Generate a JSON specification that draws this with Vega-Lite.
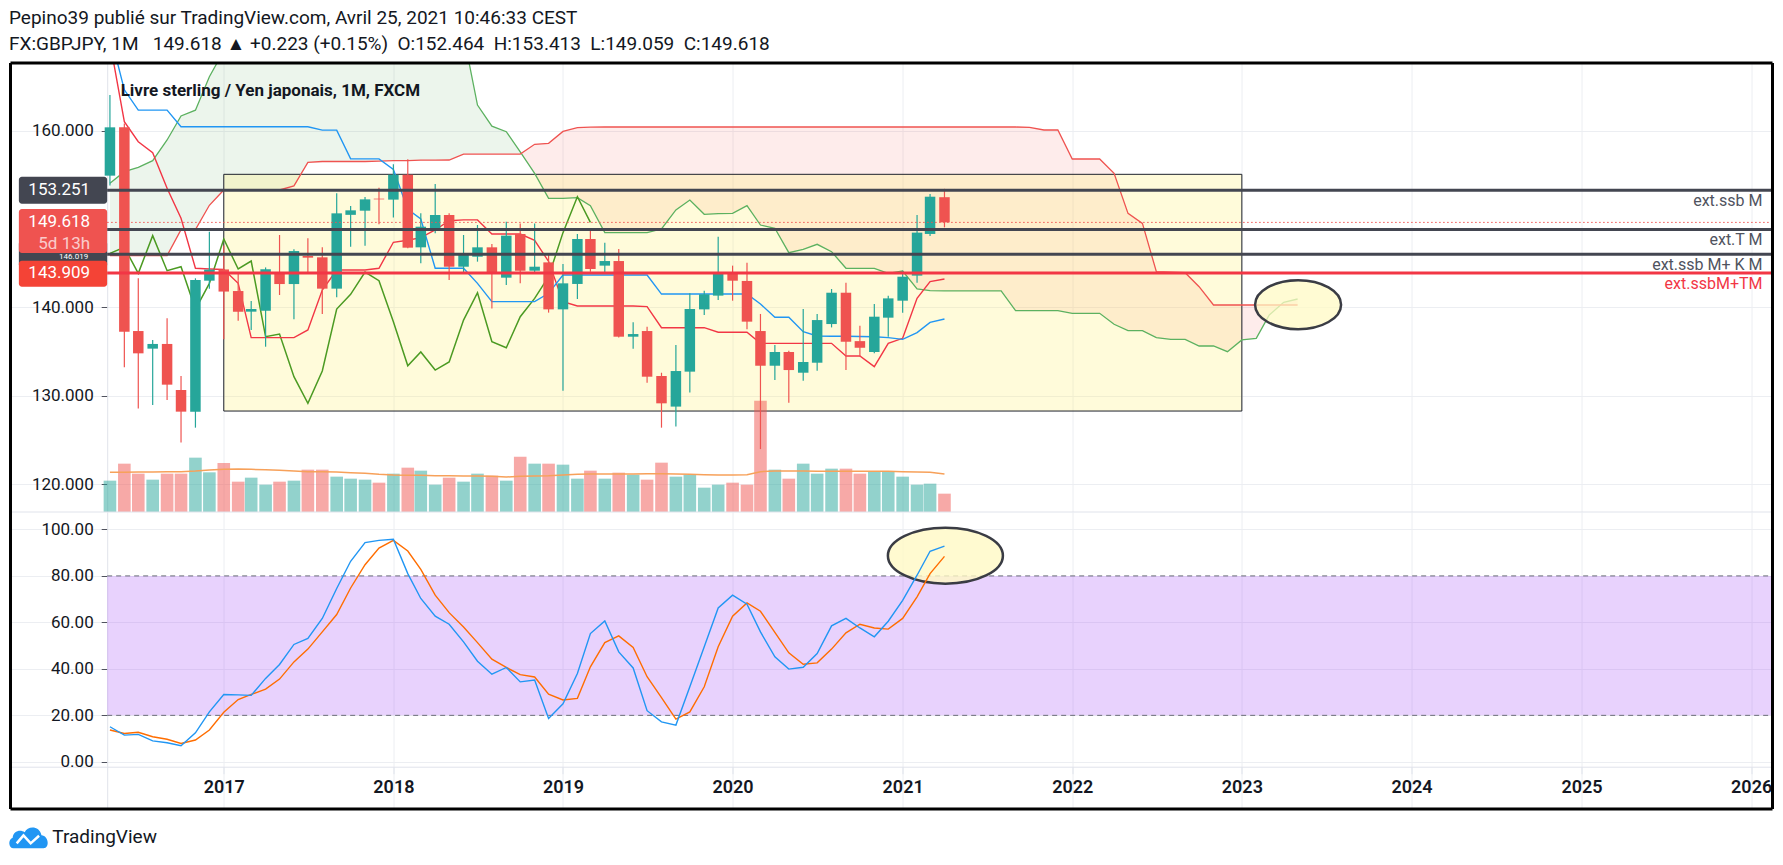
{
  "$schema": "https://vega.github.io/schema/vega-lite/v6.json",
  "background": "#ffffff",
  "padding": {"left": 8.5, "top": 9, "right": 8, "bottom": 6},
  "spacing": 0,
  "bounds": "flush",
  "config": {"view": {"stroke": null}, "font": "Roboto", "axis": {"labelFont": "Roboto"}, "scale": {"continuousPadding": 0}},
  "title": {
    "text": "Pepino39 publié sur TradingView.com, Avril 25, 2021 10:46:33 CEST",
    "subtitle": "FX:GBPJPY, 1M\u00a0\u00a0 149.618 ▲ +0.223 (+0.15%)\u00a0 O:152.464\u00a0 H:153.413\u00a0 L:149.059\u00a0 C:149.618",
    "anchor": "start", "font": "Roboto", "fontSize": 19, "fontWeight": "normal", "color": "#131722",
    "subtitleFont": "Roboto", "subtitleFontSize": 19, "subtitleColor": "#131722", "subtitlePadding": 7, "offset": 7.5
  },
  "datasets": {
    "bars": [
      {"d":"2016-05-01","o":154.9,"h":164.0,"l":153.8,"c":160.36,"v":94,"ma":119,"tk":171,"kj":170,"lag":146.12,"k":15.1,"dl":13.7},
      {"d":"2016-06-01","o":160.36,"h":160.8,"l":133.24,"c":137.27,"v":145,"ma":119,"tk":164.6,"kj":161.0,"lag":146.8,"k":11.5,"dl":12.2},
      {"d":"2016-07-01","o":137.34,"h":143.3,"l":128.6,"c":134.82,"v":115,"ma":120,"tk":162.3,"kj":158.73,"lag":143.86,"k":11.8,"dl":12.7},
      {"d":"2016-08-01","o":135.35,"h":136.33,"l":128.98,"c":135.88,"v":97,"ma":120,"tk":162.3,"kj":157.5,"lag":148.12,"k":9.0,"dl":10.8},
      {"d":"2016-09-01","o":135.88,"h":138.78,"l":129.55,"c":131.28,"v":115,"ma":121,"tk":162.3,"kj":153.47,"lag":144.16,"k":8.2,"dl":9.7},
      {"d":"2016-10-01","o":130.68,"h":132.26,"l":124.73,"c":128.23,"v":115,"ma":121,"tk":160.43,"kj":150.08,"lag":144.61,"k":6.9,"dl":7.9},
      {"d":"2016-11-01","o":128.23,"h":143.3,"l":126.42,"c":143.11,"v":163,"ma":123,"tk":160.43,"kj":144.43,"lag":139.79,"k":12.5,"dl":9.4},
      {"d":"2016-12-01","o":143.03,"h":148.57,"l":142.13,"c":144.28,"v":119,"ma":126,"tk":160.43,"kj":144.35,"lag":142.73,"k":21.5,"dl":13.7},
      {"d":"2017-01-01","o":144.3,"h":147.0,"l":136.4,"c":141.8,"v":147,"ma":128,"tk":160.43,"kj":144.3,"lag":147.74,"k":29.0,"dl":21.3},
      {"d":"2017-02-01","o":141.86,"h":144.0,"l":138.5,"c":139.52,"v":91,"ma":129,"tk":160.43,"kj":142.73,"lag":144.35,"k":28.8,"dl":26.8},
      {"d":"2017-03-01","o":139.53,"h":140.73,"l":137.45,"c":139.83,"v":103,"ma":128,"tk":160.43,"kj":136.6,"lag":145.25,"k":28.6,"dl":29.0},
      {"d":"2017-04-01","o":139.62,"h":144.53,"l":135.57,"c":144.31,"v":82,"ma":127,"tk":160.43,"kj":136.6,"lag":136.7,"k":35.9,"dl":31.3},
      {"d":"2017-05-01","o":143.97,"h":148.19,"l":141.41,"c":142.65,"v":91,"ma":125,"tk":160.43,"kj":136.6,"lag":137.0,"k":41.9,"dl":35.6},
      {"d":"2017-06-01","o":142.65,"h":146.57,"l":138.66,"c":146.38,"v":94,"ma":123,"tk":160.43,"kj":136.6,"lag":132.18,"k":50.5,"dl":43.0},
      {"d":"2017-07-01","o":145.82,"h":147.82,"l":143.86,"c":145.63,"v":127,"ma":121,"tk":160.43,"kj":137.46,"lag":129.17,"k":53.1,"dl":48.5},
      {"d":"2017-08-01","o":145.67,"h":146.8,"l":139.27,"c":142.13,"v":127,"ma":121,"tk":160.05,"kj":141.98,"lag":132.82,"k":61.7,"dl":55.9},
      {"d":"2017-09-01","o":142.13,"h":152.9,"l":141.15,"c":150.64,"v":106,"ma":120,"tk":160.05,"kj":144.24,"lag":139.83,"k":74.6,"dl":63.4},
      {"d":"2017-10-01","o":150.47,"h":151.47,"l":146.87,"c":150.98,"v":100,"ma":118,"tk":156.8,"kj":144.24,"lag":141.49,"k":86.3,"dl":74.8},
      {"d":"2017-11-01","o":150.94,"h":152.5,"l":146.98,"c":152.22,"v":97,"ma":116,"tk":156.8,"kj":144.24,"lag":144.01,"k":94.3,"dl":84.8},
      {"d":"2017-12-01","o":152.3,"h":153.54,"l":149.4,"c":152.22,"v":88,"ma":113,"tk":156.8,"kj":144.43,"lag":143.03,"k":95.3,"dl":92.0},
      {"d":"2018-01-01","o":152.19,"h":156.2,"l":150.16,"c":155.0,"v":115,"ma":111,"tk":155.6,"kj":147.37,"lag":138.4,"k":95.8,"dl":95.3},
      {"d":"2018-02-01","o":155.0,"h":156.74,"l":146.7,"c":146.76,"v":133,"ma":110,"tk":151.1,"kj":147.6,"lag":133.42,"k":81.0,"dl":90.7},
      {"d":"2018-03-01","o":146.8,"h":150.64,"l":145.0,"c":149.13,"v":124,"ma":110,"tk":150.0,"kj":147.9,"lag":134.97,"k":70.3,"dl":82.8},
      {"d":"2018-04-01","o":148.87,"h":153.95,"l":148.38,"c":150.45,"v":82,"ma":109,"tk":144.43,"kj":148.76,"lag":132.93,"k":62.7,"dl":71.7},
      {"d":"2018-05-01","o":150.45,"h":150.64,"l":143.1,"c":144.61,"v":103,"ma":109,"tk":144.43,"kj":149.8,"lag":133.84,"k":59.2,"dl":64.2},
      {"d":"2018-06-01","o":144.61,"h":148.19,"l":143.86,"c":146.12,"v":91,"ma":108,"tk":144.43,"kj":149.9,"lag":138.58,"k":51.6,"dl":58.0},
      {"d":"2018-07-01","o":145.74,"h":149.32,"l":145.18,"c":146.8,"v":115,"ma":108,"tk":142.73,"kj":149.9,"lag":141.67,"k":43.3,"dl":51.3},
      {"d":"2018-08-01","o":146.8,"h":147.17,"l":139.9,"c":143.86,"v":109,"ma":107,"tk":140.66,"kj":148.3,"lag":136.13,"k":37.7,"dl":44.2},
      {"d":"2018-09-01","o":143.37,"h":149.7,"l":142.54,"c":148.12,"v":94,"ma":105,"tk":140.66,"kj":148.3,"lag":135.45,"k":40.6,"dl":40.6},
      {"d":"2018-10-01","o":148.3,"h":149.5,"l":142.73,"c":144.16,"v":166,"ma":107,"tk":140.66,"kj":148.3,"lag":138.96,"k":34.4,"dl":37.5},
      {"d":"2018-11-01","o":144.16,"h":149.5,"l":143.93,"c":144.61,"v":145,"ma":108,"tk":140.66,"kj":147.6,"lag":141.03,"k":35.2,"dl":36.5},
      {"d":"2018-12-01","o":145.1,"h":146.12,"l":139.42,"c":139.79,"v":145,"ma":109,"tk":141.6,"kj":145.2,"lag":143.48,"k":18.7,"dl":29.1},
      {"d":"2019-01-01","o":139.79,"h":144.92,"l":130.6,"c":142.73,"v":142,"ma":111,"tk":143.67,"kj":140.66,"lag":148.46,"k":25.0,"dl":26.6},
      {"d":"2019-02-01","o":142.66,"h":148.31,"l":140.96,"c":147.74,"v":100,"ma":113,"tk":143.67,"kj":140.17,"lag":152.52,"k":38.0,"dl":27.3},
      {"d":"2019-03-01","o":147.74,"h":148.95,"l":144.05,"c":144.35,"v":124,"ma":114,"tk":143.67,"kj":140.17,"lag":149.618,"k":55.2,"dl":40.9},
      {"d":"2019-04-01","o":144.73,"h":147.32,"l":143.86,"c":145.25,"v":100,"ma":114,"tk":143.67,"kj":140.17,"k":60.6,"dl":51.3},
      {"d":"2019-05-01","o":145.25,"h":146.6,"l":136.6,"c":136.7,"v":118,"ma":114,"tk":143.67,"kj":140.17,"k":47.3,"dl":54.2},
      {"d":"2019-06-01","o":136.7,"h":138.32,"l":135.35,"c":137.0,"v":112,"ma":114,"tk":143.67,"kj":140.17,"k":40.4,"dl":49.2},
      {"d":"2019-07-01","o":137.34,"h":137.83,"l":131.5,"c":132.18,"v":97,"ma":115,"tk":143.67,"kj":140.1,"k":22.0,"dl":36.6},
      {"d":"2019-08-01","o":132.26,"h":132.63,"l":126.42,"c":129.17,"v":148,"ma":115,"tk":141.52,"kj":137.72,"k":17.2,"dl":27.6},
      {"d":"2019-09-01","o":128.8,"h":135.76,"l":126.54,"c":132.82,"v":106,"ma":114,"tk":141.52,"kj":137.72,"k":15.8,"dl":18.4},
      {"d":"2019-10-01","o":132.75,"h":141.6,"l":130.4,"c":139.83,"v":112,"ma":113,"tk":141.52,"kj":137.72,"k":32.3,"dl":21.5},
      {"d":"2019-11-01","o":139.79,"h":141.9,"l":139.16,"c":141.49,"v":73,"ma":112,"tk":141.52,"kj":137.72,"k":49.5,"dl":32.3},
      {"d":"2019-12-01","o":141.34,"h":148.0,"l":140.85,"c":144.01,"v":82,"ma":111,"tk":141.52,"kj":137.2,"k":66.2,"dl":49.5},
      {"d":"2020-01-01","o":144.01,"h":144.73,"l":140.77,"c":143.03,"v":88,"ma":111,"tk":141.52,"kj":137.2,"k":71.7,"dl":62.7},
      {"d":"2020-02-01","o":143.0,"h":145.06,"l":137.53,"c":138.4,"v":82,"ma":112,"tk":141.52,"kj":137.2,"k":67.8,"dl":68.4},
      {"d":"2020-03-01","o":137.34,"h":139.27,"l":124.0,"c":133.42,"v":334,"ma":121,"tk":140.4,"kj":135.95,"k":55.9,"dl":64.8},
      {"d":"2020-04-01","o":133.42,"h":135.76,"l":131.8,"c":134.97,"v":127,"ma":123,"tk":138.9,"kj":135.95,"k":45.2,"dl":55.7},
      {"d":"2020-05-01","o":134.97,"h":135.12,"l":129.24,"c":132.93,"v":100,"ma":123,"tk":138.9,"kj":135.95,"k":39.9,"dl":46.9},
      {"d":"2020-06-01","o":132.63,"h":139.83,"l":131.73,"c":133.84,"v":145,"ma":123,"tk":137.27,"kj":135.95,"k":40.7,"dl":42.0},
      {"d":"2020-07-01","o":133.76,"h":139.27,"l":132.86,"c":138.58,"v":115,"ma":122,"tk":136.78,"kj":135.95,"k":46.6,"dl":42.6},
      {"d":"2020-08-01","o":138.13,"h":142.09,"l":137.75,"c":141.67,"v":130,"ma":122,"tk":136.75,"kj":135.95,"k":58.5,"dl":48.5},
      {"d":"2020-09-01","o":141.67,"h":142.8,"l":132.93,"c":136.13,"v":130,"ma":122,"tk":136.75,"kj":134.52,"k":61.7,"dl":55.5},
      {"d":"2020-10-01","o":136.2,"h":137.94,"l":134.44,"c":135.45,"v":115,"ma":122,"tk":136.72,"kj":134.52,"k":57.6,"dl":59.2},
      {"d":"2020-11-01","o":134.97,"h":140.4,"l":134.82,"c":138.96,"v":121,"ma":122,"tk":136.7,"kj":133.32,"k":53.8,"dl":57.6},
      {"d":"2020-12-01","o":138.85,"h":141.34,"l":136.7,"c":141.03,"v":121,"ma":122,"tk":136.6,"kj":135.95,"k":60.5,"dl":57.1},
      {"d":"2021-01-01","o":140.77,"h":144.16,"l":139.42,"c":143.48,"v":106,"ma":121,"tk":136.4,"kj":136.52,"k":69.5,"dl":61.7},
      {"d":"2021-02-01","o":143.6,"h":150.45,"l":142.8,"c":148.46,"v":82,"ma":120,"tk":137.16,"kj":141.04,"k":80.3,"dl":71.0},
      {"d":"2021-03-01","o":148.31,"h":152.82,"l":148.08,"c":152.52,"v":85,"ma":119,"tk":138.32,"kj":142.92,"k":90.6,"dl":81.0},
      {"d":"2021-04-01","o":152.464,"h":153.413,"l":149.059,"c":149.618,"v":55,"ma":114,"tk":138.7,"kj":143.22,"k":92.8,"dl":88.4}
    ],
    "kumo": [
      {"d":"2016-05-01","a":154.03,"b":145.86,"s":"up"},
      {"d":"2016-06-01","a":155.35,"b":145.86,"s":"up"},
      {"d":"2016-07-01","a":155.84,"b":145.86,"s":"up"},
      {"d":"2016-08-01","a":156.59,"b":145.86,"s":"up"},
      {"d":"2016-09-01","a":158.93,"b":145.86,"s":"up"},
      {"d":"2016-10-01","a":161.64,"b":148.8,"s":"up"},
      {"d":"2016-11-01","a":162.3,"b":148.8,"s":"up"},
      {"d":"2016-12-01","a":166.08,"b":151.55,"s":"up"},
      {"d":"2017-01-01","a":169.0,"b":153.28,"s":"up"},
      {"d":"2017-02-01","a":172,"b":153.28,"s":"up"},
      {"d":"2017-03-01","a":175,"b":153.28,"s":"up"},
      {"d":"2017-04-01","a":176,"b":153.28,"s":"up"},
      {"d":"2017-05-01","a":176,"b":153.28,"s":"up"},
      {"d":"2017-06-01","a":176,"b":153.75,"s":"up"},
      {"d":"2017-07-01","a":176,"b":156.4,"s":"up"},
      {"d":"2017-08-01","a":176,"b":156.5,"s":"up"},
      {"d":"2017-09-01","a":176,"b":156.5,"s":"up"},
      {"d":"2017-10-01","a":176,"b":156.5,"s":"up"},
      {"d":"2017-11-01","a":176,"b":156.5,"s":"up"},
      {"d":"2017-12-01","a":176,"b":156.55,"s":"up"},
      {"d":"2018-01-01","a":176,"b":156.6,"s":"up"},
      {"d":"2018-02-01","a":176,"b":156.6,"s":"up"},
      {"d":"2018-03-01","a":175,"b":156.65,"s":"up"},
      {"d":"2018-04-01","a":174,"b":156.65,"s":"up"},
      {"d":"2018-05-01","a":172.5,"b":156.67,"s":"up"},
      {"d":"2018-06-01","a":170.8,"b":157.34,"s":"up"},
      {"d":"2018-07-01","a":162.88,"b":157.34,"s":"up"},
      {"d":"2018-08-01","a":160.5,"b":157.34,"s":"up"},
      {"d":"2018-09-01","a":159.87,"b":157.34,"s":"up"},
      {"d":"2018-10-01","a":157.6,"b":157.34,"s":"up"},
      {"d":"2018-10-01","a":157.6,"b":157.34,"s":"down"},
      {"d":"2018-11-01","a":155.16,"b":158.44,"s":"down"},
      {"d":"2018-12-01","a":152.34,"b":158.55,"s":"down"},
      {"d":"2019-01-01","a":152.34,"b":159.9,"s":"down"},
      {"d":"2019-02-01","a":152.41,"b":160.32,"s":"down"},
      {"d":"2019-03-01","a":151.51,"b":160.38,"s":"down"},
      {"d":"2019-04-01","a":148.46,"b":160.4,"s":"down"},
      {"d":"2019-05-01","a":148.46,"b":160.4,"s":"down"},
      {"d":"2019-06-01","a":148.46,"b":160.4,"s":"down"},
      {"d":"2019-07-01","a":148.46,"b":160.4,"s":"down"},
      {"d":"2019-08-01","a":148.87,"b":160.4,"s":"down"},
      {"d":"2019-09-01","a":151.02,"b":160.4,"s":"down"},
      {"d":"2019-10-01","a":152.15,"b":160.4,"s":"down"},
      {"d":"2019-11-01","a":150.53,"b":160.4,"s":"down"},
      {"d":"2019-12-01","a":150.6,"b":160.4,"s":"down"},
      {"d":"2020-01-01","a":150.64,"b":160.4,"s":"down"},
      {"d":"2020-02-01","a":151.51,"b":160.4,"s":"down"},
      {"d":"2020-03-01","a":149.32,"b":160.4,"s":"down"},
      {"d":"2020-04-01","a":148.95,"b":160.4,"s":"down"},
      {"d":"2020-05-01","a":146.2,"b":160.4,"s":"down"},
      {"d":"2020-06-01","a":146.57,"b":160.4,"s":"down"},
      {"d":"2020-07-01","a":147.14,"b":160.4,"s":"down"},
      {"d":"2020-08-01","a":146.31,"b":160.4,"s":"down"},
      {"d":"2020-09-01","a":144.43,"b":160.4,"s":"down"},
      {"d":"2020-10-01","a":144.43,"b":160.4,"s":"down"},
      {"d":"2020-11-01","a":144.43,"b":160.4,"s":"down"},
      {"d":"2020-12-01","a":143.86,"b":160.4,"s":"down"},
      {"d":"2021-01-01","a":144.12,"b":160.4,"s":"down"},
      {"d":"2021-02-01","a":142.09,"b":160.4,"s":"down"},
      {"d":"2021-03-01","a":141.9,"b":160.4,"s":"down"},
      {"d":"2021-04-01","a":141.87,"b":160.4,"s":"down"},
      {"d":"2021-05-01","a":141.87,"b":160.4,"s":"down"},
      {"d":"2021-06-01","a":141.87,"b":160.4,"s":"down"},
      {"d":"2021-07-01","a":141.87,"b":160.4,"s":"down"},
      {"d":"2021-08-01","a":141.87,"b":160.4,"s":"down"},
      {"d":"2021-09-01","a":139.64,"b":160.4,"s":"down"},
      {"d":"2021-10-01","a":139.64,"b":160.36,"s":"down"},
      {"d":"2021-11-01","a":139.64,"b":160.06,"s":"down"},
      {"d":"2021-12-01","a":139.64,"b":160.06,"s":"down"},
      {"d":"2022-01-01","a":139.34,"b":156.78,"s":"down"},
      {"d":"2022-02-01","a":139.34,"b":156.78,"s":"down"},
      {"d":"2022-03-01","a":139.34,"b":156.78,"s":"down"},
      {"d":"2022-04-01","a":138.1,"b":155.16,"s":"down"},
      {"d":"2022-05-01","a":137.38,"b":150.64,"s":"down"},
      {"d":"2022-06-01","a":137.38,"b":149.5,"s":"down"},
      {"d":"2022-07-01","a":136.59,"b":144.05,"s":"down"},
      {"d":"2022-08-01","a":136.4,"b":144.0,"s":"down"},
      {"d":"2022-09-01","a":136.4,"b":143.93,"s":"down"},
      {"d":"2022-10-01","a":135.65,"b":142.35,"s":"down"},
      {"d":"2022-11-01","a":135.65,"b":140.28,"s":"down"},
      {"d":"2022-12-01","a":135.01,"b":140.28,"s":"down"},
      {"d":"2023-01-01","a":136.33,"b":140.28,"s":"down"},
      {"d":"2023-02-01","a":136.52,"b":140.28,"s":"down"},
      {"d":"2023-03-01","a":139.15,"b":140.28,"s":"down"},
      {"d":"2023-04-01","a":140.58,"b":140.28,"s":"down"},
      {"d":"2023-05-01","a":140.96,"b":140.28,"s":"down"}
    ],
    "levels": [
      {"p":153.251,"t":"ext.ssb M","k":"g"},
      {"p":148.82,"t":"ext.T M","k":"g"},
      {"p":146.02,"t":"ext.ssb M+ K M","k":"g"},
      {"p":143.909,"t":"ext.ssbM+TM","k":"r"}
    ]
  },
  "vconcat": [
    {
      "width": 1762,
      "height": 449,
      "resolve": {"scale": {"y": "independent"}, "axis": {"x": "independent", "y": "independent"}},
      "layer": [
        {
          "resolve": {"axis": {"x": "independent", "y": "independent"}},
          "layer": [
            {
              "data": {"name": "kumo"},
              "mark": {"type": "area", "clip": true, "fillOpacity": 0.1, "interpolate": "linear"},
              "encoding": {
                "x": {"field": "d", "type": "temporal", "title": null,
                  "scale": {"type": "utc", "nice": false, "padding": 0, "domain": [{"year":2015,"month":9,"date":30,"utc":true},{"year":2026,"month":2,"date":16,"utc":true}]},
                  "axis": {"values": [{"year":2017,"utc":true},{"year":2018,"utc":true},{"year":2019,"utc":true},{"year":2020,"utc":true},{"year":2021,"utc":true},{"year":2022,"utc":true},{"year":2023,"utc":true},{"year":2024,"utc":true},{"year":2025,"utc":true},{"year":2026,"utc":true}],
                    "labels": false, "ticks": false, "domain": false, "grid": true, "gridColor": "#eceef2"}},
                "y": {"field": "a", "type": "quantitative", "title": null, "stack": null,
                  "scale": {"domain": [116.89, 167.63], "nice": false, "zero": false, "padding": 0},
                  "axis": {"orient": "left", "offset": -96.7, "values": [120, 130, 140, 160], "format": ".3f",
                    "labelFontSize": 17, "labelColor": "#131722", "labelPadding": 8, "tickSize": 6, "tickColor": "#50535e",
                    "domainColor": "#e0e3eb", "grid": true, "gridColor": "#eceef2"}},
                "y2": {"field": "b"},
                "color": {"field": "s", "type": "nominal", "legend": null, "scale": {"domain": ["up", "down"], "range": ["#43a047", "#f44336"]}}
              }
            },
            {
              "data": {"values": [{"x1": "2017-01-01", "x2": "2023-01-01", "lo": 128.3, "hi": 155.05}]},
              "mark": {"type": "rect", "fill": "#fff176", "fillOpacity": 0.27, "stroke": "#1e222d", "strokeWidth": 1},
              "encoding": {
                "x": {"field": "x1", "type": "temporal", "axis": null, "title": null},
                "x2": {"field": "x2"},
                "y": {"field": "lo", "type": "quantitative", "axis": null, "title": null, "scale": {"domain": [116.89, 167.63], "nice": false, "zero": false}},
                "y2": {"field": "hi"}
              }
            }
          ]
        },
        {
          "layer": [
            {
              "data": {"name": "bars"},
              "mark": {"type": "bar", "size": 12.6, "opacity": 0.5},
              "encoding": {
                "x": {"field": "d", "type": "temporal", "axis": null, "title": null},
                "y": {"field": "v", "type": "quantitative", "axis": null, "title": null, "stack": null, "scale": {"domain": [0, 1347], "nice": false, "padding": 0}},
                "color": {"condition": {"test": "datum.c >= datum.o", "value": "#26a69a"}, "value": "#ef5350"}
              }
            },
            {
              "data": {"name": "bars"},
              "mark": {"type": "line", "color": "#f7a15a", "strokeWidth": 1.5},
              "encoding": {
                "x": {"field": "d", "type": "temporal", "axis": null, "title": null},
                "y": {"field": "ma", "type": "quantitative", "axis": null, "title": null, "scale": {"domain": [0, 1347], "nice": false}}
              }
            }
          ]
        },
        {
          "layer": [
            {
              "data": {"name": "kumo"},
              "mark": {"type": "line", "clip": true, "color": "#5cb160", "strokeWidth": 1.3},
              "encoding": {
                "x": {"field": "d", "type": "temporal", "axis": null, "title": null},
                "y": {"field": "a", "type": "quantitative", "axis": null, "title": null, "scale": {"domain": [116.89, 167.63], "nice": false, "zero": false, "padding": 0}}
              }
            },
            {
              "data": {"name": "kumo"},
              "mark": {"type": "line", "clip": true, "color": "#ef5350", "strokeWidth": 1.3},
              "encoding": {
                "x": {"field": "d", "type": "temporal", "axis": null, "title": null},
                "y": {"field": "b", "type": "quantitative", "axis": null, "title": null, "scale": {"domain": [116.89, 167.63], "nice": false, "zero": false}}
              }
            },
            {
              "data": {"name": "bars"},
              "mark": {"type": "line", "clip": true, "color": "#4b9a22", "strokeWidth": 1.5},
              "encoding": {
                "x": {"field": "d", "type": "temporal", "axis": null, "title": null},
                "y": {"field": "lag", "type": "quantitative", "axis": null, "title": null, "scale": {"domain": [116.89, 167.63], "nice": false, "zero": false}}
              }
            },
            {
              "data": {"name": "bars"},
              "mark": {"type": "line", "clip": true, "color": "#f23645", "strokeWidth": 1.4},
              "encoding": {
                "x": {"field": "d", "type": "temporal", "axis": null, "title": null},
                "y": {"field": "kj", "type": "quantitative", "axis": null, "title": null, "scale": {"domain": [116.89, 167.63], "nice": false, "zero": false}}
              }
            },
            {
              "data": {"name": "bars"},
              "mark": {"type": "line", "clip": true, "color": "#2196f3", "strokeWidth": 1.4},
              "encoding": {
                "x": {"field": "d", "type": "temporal", "axis": null, "title": null},
                "y": {"field": "tk", "type": "quantitative", "axis": null, "title": null, "scale": {"domain": [116.89, 167.63], "nice": false, "zero": false}}
              }
            },
            {
              "data": {"name": "bars"},
              "mark": {"type": "rule", "strokeWidth": 1.2},
              "encoding": {
                "x": {"field": "d", "type": "temporal", "axis": null, "title": null},
                "y": {"field": "l", "type": "quantitative", "axis": null, "title": null, "scale": {"domain": [116.89, 167.63], "nice": false, "zero": false}},
                "y2": {"field": "h"},
                "color": {"condition": {"test": "datum.c >= datum.o", "value": "#26a69a"}, "value": "#ef5350"}
              }
            },
            {
              "data": {"name": "bars"},
              "mark": {"type": "bar", "size": 10.5},
              "encoding": {
                "x": {"field": "d", "type": "temporal", "axis": null, "title": null},
                "y": {"field": "o", "type": "quantitative", "axis": null, "title": null, "scale": {"domain": [116.89, 167.63], "nice": false, "zero": false}},
                "y2": {"field": "c"},
                "color": {"condition": {"test": "datum.c >= datum.o", "value": "#26a69a"}, "value": "#ef5350"}
              }
            },
            {
              "data": {"name": "levels"},
              "mark": {"type": "rule", "strokeWidth": 3},
              "encoding": {
                "x": {"datum": {"year":2016,"month":4,"date":25,"utc":true}, "type": "temporal", "axis": null},
                "x2": {"datum": {"year":2026,"month":2,"date":16,"utc":true}},
                "y": {"field": "p", "type": "quantitative", "axis": null, "title": null, "scale": {"domain": [116.89, 167.63], "nice": false, "zero": false}},
                "color": {"condition": {"test": "datum.k == 'r'", "value": "#f23645"}, "value": "#434651"}
              }
            },
            {
              "data": {"values": [{"p": 149.618}]},
              "mark": {"type": "rule", "strokeWidth": 1, "strokeDash": [1.5, 2.5], "color": "#ef5350"},
              "encoding": {
                "x": {"datum": {"year":2016,"month":4,"date":25,"utc":true}, "type": "temporal", "axis": null},
                "x2": {"datum": {"year":2026,"month":2,"date":16,"utc":true}},
                "y": {"field": "p", "type": "quantitative", "axis": null, "title": null, "scale": {"domain": [116.89, 167.63], "nice": false, "zero": false}}
              }
            },
            {
              "data": {"name": "levels"},
              "mark": {"type": "text", "align": "right", "baseline": "middle", "dx": -10, "dy": 11, "fontSize": 16, "font": "Roboto"},
              "encoding": {
                "x": {"datum": {"year":2026,"month":2,"date":16,"utc":true}, "type": "temporal", "axis": null},
                "y": {"field": "p", "type": "quantitative", "axis": null, "title": null, "scale": {"domain": [116.89, 167.63], "nice": false, "zero": false}},
                "text": {"field": "t"},
                "color": {"condition": {"test": "datum.k == 'r'", "value": "#f23645"}, "value": "#50535e"}
              }
            },
            {
              "data": {"values": [{}]},
              "mark": {"type": "point", "shape": "M-1,0 A1,0.57 0 1,1 1,0 A1,0.57 0 1,1 -1,0 Z", "size": 7396, "filled": true, "fill": "#fff9c4", "fillOpacity": 0.75, "stroke": "#3a3c44", "strokeWidth": 2.5, "opacity": 1},
              "encoding": {
                "x": {"datum": {"year":2023,"month":5,"date":2,"utc":true}, "type": "temporal", "axis": null},
                "y": {"datum": 140.32, "type": "quantitative", "axis": null, "scale": {"domain": [116.89, 167.63], "nice": false, "zero": false}}
              }
            },
            {
              "data": {"values": [{"t": "Livre sterling / Yen japonais, 1M, FXCM"}]},
              "mark": {"type": "text", "align": "left", "baseline": "middle", "fontSize": 17, "fontWeight": "bold", "font": "Roboto", "color": "#131722"},
              "encoding": {
                "x": {"datum": {"year":2016,"month":5,"date":24,"utc":true}, "type": "temporal", "axis": null},
                "y": {"datum": 164.5, "type": "quantitative", "axis": null, "scale": {"domain": [116.89, 167.63], "nice": false, "zero": false}},
                "text": {"field": "t"}
              }
            },
            {
              "data": {"values": [{"p": 153.251, "t": "153.251"}, {"p": 146.02, "t": "146.019"}]},
              "mark": {"type": "bar", "orient": "horizontal", "size": 27, "color": "#434651", "cornerRadius": 3},
              "encoding": {
                "x": {"datum": {"year":2015,"month":10,"date":18,"utc":true}, "type": "temporal", "axis": null},
                "x2": {"datum": {"year":2016,"month":4,"date":25,"utc":true}},
                "y": {"field": "p", "type": "quantitative", "axis": null, "title": null, "scale": {"domain": [116.89, 167.63], "nice": false, "zero": false}}
              }
            },
            {
              "data": {"values": [{"p": 153.251, "t": "153.251"}]},
              "mark": {"type": "text", "align": "right", "baseline": "middle", "dx": -17, "fontSize": 17, "font": "Roboto", "color": "#ffffff"},
              "encoding": {
                "x": {"datum": {"year":2016,"month":4,"date":25,"utc":true}, "type": "temporal", "axis": null},
                "y": {"field": "p", "type": "quantitative", "axis": null, "title": null, "scale": {"domain": [116.89, 167.63], "nice": false, "zero": false}},
                "text": {"field": "t"}
              }
            },
            {
              "data": {"values": [{"p": 146.02, "t": "146.019"}]},
              "mark": {"type": "text", "align": "right", "baseline": "middle", "dx": -19, "dy": 3, "fontSize": 8, "font": "Roboto", "color": "#ffffff"},
              "encoding": {
                "x": {"datum": {"year":2016,"month":4,"date":25,"utc":true}, "type": "temporal", "axis": null},
                "y": {"field": "p", "type": "quantitative", "axis": null, "title": null, "scale": {"domain": [116.89, 167.63], "nice": false, "zero": false}},
                "text": {"field": "t"}
              }
            },
            {
              "data": {"values": [{"p": 149.618, "t": "149.618", "u": "5d 13h"}]},
              "mark": {"type": "bar", "orient": "horizontal", "size": 44, "yOffset": 8.6, "color": "#ef5350", "cornerRadius": 3},
              "encoding": {
                "x": {"datum": {"year":2015,"month":10,"date":18,"utc":true}, "type": "temporal", "axis": null},
                "x2": {"datum": {"year":2016,"month":4,"date":25,"utc":true}},
                "y": {"field": "p", "type": "quantitative", "axis": null, "title": null, "scale": {"domain": [116.89, 167.63], "nice": false, "zero": false}}
              }
            },
            {
              "data": {"values": [{"p": 149.618, "t": "149.618", "u": "5d 13h"}]},
              "mark": {"type": "text", "align": "right", "baseline": "middle", "dx": -17, "fontSize": 17, "font": "Roboto", "color": "#ffffff"},
              "encoding": {
                "x": {"datum": {"year":2016,"month":4,"date":25,"utc":true}, "type": "temporal", "axis": null},
                "y": {"field": "p", "type": "quantitative", "axis": null, "title": null, "scale": {"domain": [116.89, 167.63], "nice": false, "zero": false}},
                "text": {"field": "t"}
              }
            },
            {
              "data": {"values": [{"p": 149.618, "t": "149.618", "u": "5d 13h"}]},
              "mark": {"type": "text", "align": "right", "baseline": "middle", "dx": -17, "dy": 21.3, "fontSize": 17, "font": "Roboto", "color": "#ffffff", "opacity": 0.7},
              "encoding": {
                "x": {"datum": {"year":2016,"month":4,"date":25,"utc":true}, "type": "temporal", "axis": null},
                "y": {"field": "p", "type": "quantitative", "axis": null, "title": null, "scale": {"domain": [116.89, 167.63], "nice": false, "zero": false}},
                "text": {"field": "u"}
              }
            },
            {
              "data": {"values": [{"p": 143.909, "t": "143.909"}]},
              "mark": {"type": "bar", "orient": "horizontal", "size": 26, "yOffset": 0.8, "color": "#f44336", "cornerRadius": 3},
              "encoding": {
                "x": {"datum": {"year":2015,"month":10,"date":18,"utc":true}, "type": "temporal", "axis": null},
                "x2": {"datum": {"year":2016,"month":4,"date":25,"utc":true}},
                "y": {"field": "p", "type": "quantitative", "axis": null, "title": null, "scale": {"domain": [116.89, 167.63], "nice": false, "zero": false}}
              }
            },
            {
              "data": {"values": [{"p": 143.909, "t": "143.909"}]},
              "mark": {"type": "text", "align": "right", "baseline": "middle", "dx": -17, "fontSize": 17, "font": "Roboto", "color": "#ffffff"},
              "encoding": {
                "x": {"datum": {"year":2016,"month":4,"date":25,"utc":true}, "type": "temporal", "axis": null},
                "y": {"field": "p", "type": "quantitative", "axis": null, "title": null, "scale": {"domain": [116.89, 167.63], "nice": false, "zero": false}},
                "text": {"field": "t"}
              }
            },
            {
              "data": {"values": [{}]},
              "mark": {"type": "rule", "color": "#e0e3eb", "strokeWidth": 1},
              "encoding": {
                "x": {"datum": {"year":2015,"month":9,"date":30,"utc":true}, "type": "temporal", "axis": null},
                "x2": {"datum": {"year":2026,"month":2,"date":16,"utc":true}},
                "y": {"datum": 116.89, "type": "quantitative", "axis": null, "scale": {"domain": [116.89, 167.63], "nice": false, "zero": false}}
              }
            },
            {
              "data": {"values": [{}]},
              "mark": {"type": "rule", "color": "#000000", "strokeWidth": 3},
              "encoding": {
                "x": {"datum": {"year":2015,"month":9,"date":30,"utc":true}, "type": "temporal", "axis": null},
                "x2": {"datum": {"year":2026,"month":2,"date":16,"utc":true}},
                "y": {"datum": 167.63, "type": "quantitative", "axis": null, "scale": {"domain": [116.89, 167.63], "nice": false, "zero": false}}
              }
            },
            {
              "data": {"values": [{}]},
              "mark": {"type": "rule", "color": "#000000", "strokeWidth": 3},
              "encoding": {
                "x": {"datum": {"year":2015,"month":9,"date":30,"utc":true}, "type": "temporal", "axis": null},
                "y": {"datum": 116.89, "type": "quantitative", "axis": null, "scale": {"domain": [116.89, 167.63], "nice": false, "zero": false}},
                "y2": {"datum": 167.63}
              }
            },
            {
              "data": {"values": [{}]},
              "mark": {"type": "rule", "color": "#000000", "strokeWidth": 3},
              "encoding": {
                "x": {"datum": {"year":2026,"month":2,"date":16,"utc":true}, "type": "temporal", "axis": null},
                "y": {"datum": 116.89, "type": "quantitative", "axis": null, "scale": {"domain": [116.89, 167.63], "nice": false, "zero": false}},
                "y2": {"datum": 167.63}
              }
            }
          ]
        }
      ]
    },
    {
      "width": 1762,
      "height": 297,
      "resolve": {"axis": {"x": "independent", "y": "independent"}},
      "layer": [
        {
          "data": {"values": [{}]},
          "mark": {"type": "rect", "fill": "#a24cf7", "fillOpacity": 0.25},
          "encoding": {
            "x": {"datum": {"year":2016,"month":4,"date":25,"utc":true}, "type": "temporal", "axis": null,
              "scale": {"type": "utc", "nice": false, "padding": 0, "domain": [{"year":2015,"month":9,"date":30,"utc":true},{"year":2026,"month":2,"date":16,"utc":true}]}},
            "x2": {"datum": {"year":2026,"month":2,"date":16,"utc":true}},
            "y": {"datum": 20, "type": "quantitative", "axis": null, "scale": {"domain": [-20.3, 107.5], "nice": false, "zero": false, "padding": 0}},
            "y2": {"datum": 80}
          }
        },
        {
          "data": {"values": [{"v": 20}, {"v": 80}]},
          "mark": {"type": "rule", "color": "#6a6d78", "strokeWidth": 1, "strokeDash": [5, 4]},
          "encoding": {
            "x": {"datum": {"year":2016,"month":4,"date":25,"utc":true}, "type": "temporal", "axis": null},
            "x2": {"datum": {"year":2026,"month":2,"date":16,"utc":true}},
            "y": {"field": "v", "type": "quantitative", "axis": null, "title": null, "scale": {"domain": [-20.3, 107.5], "nice": false, "zero": false}}
          }
        },
        {
          "data": {"values": [{}]},
          "mark": {"type": "point", "shape": "M-1,0 A1,0.487 0 1,1 1,0 A1,0.487 0 1,1 -1,0 Z", "size": 13225, "filled": true, "fill": "#fff9c4", "fillOpacity": 0.8, "stroke": "#3a3c44", "strokeWidth": 2.5, "opacity": 1},
          "encoding": {
            "x": {"datum": {"year":2021,"month":4,"date":3,"utc":true}, "type": "temporal", "axis": null},
            "y": {"datum": 88.7, "type": "quantitative", "axis": null, "scale": {"domain": [-20.3, 107.5], "nice": false, "zero": false}}
          }
        },
        {
          "data": {"name": "bars"},
          "mark": {"type": "line", "color": "#ff6d00", "strokeWidth": 1.4},
          "encoding": {
            "x": {"field": "d", "type": "temporal", "axis": null, "title": null},
            "y": {"field": "dl", "type": "quantitative", "axis": null, "title": null, "scale": {"domain": [-20.3, 107.5], "nice": false, "zero": false}}
          }
        },
        {
          "data": {"name": "bars"},
          "mark": {"type": "line", "color": "#2196f3", "strokeWidth": 1.4},
          "encoding": {
            "x": {"field": "d", "type": "temporal", "title": null,
              "axis": {"values": [{"year":2017,"utc":true},{"year":2018,"utc":true},{"year":2019,"utc":true},{"year":2020,"utc":true},{"year":2021,"utc":true},{"year":2022,"utc":true},{"year":2023,"utc":true},{"year":2024,"utc":true},{"year":2025,"utc":true},{"year":2026,"utc":true}],
                "format": "%Y", "formatType": "utc", "orient": "bottom", "offset": -42.3, "labelFontSize": 18, "labelFontWeight": 600,
                "labelColor": "#131722", "labelPadding": 5, "labelFlush": false, "tickSize": 7, "tickColor": "#e0e3eb",
                "domainColor": "#e0e3eb", "grid": true, "gridColor": "#eceef2"}},
            "y": {"field": "k", "type": "quantitative", "title": null,
              "scale": {"domain": [-20.3, 107.5], "nice": false, "zero": false},
              "axis": {"orient": "left", "offset": -96.7, "values": [0, 20, 40, 60, 80, 100], "format": ".2f",
                "labelFontSize": 17, "labelColor": "#131722", "labelPadding": 8, "tickSize": 6, "tickColor": "#50535e",
                "domainColor": "#e0e3eb", "grid": true, "gridColor": "#eceef2"}}
          }
        },
        {
          "data": {"values": [{}]},
          "mark": {"type": "rule", "color": "#000000", "strokeWidth": 3},
          "encoding": {
            "x": {"datum": {"year":2015,"month":9,"date":30,"utc":true}, "type": "temporal", "axis": null},
            "x2": {"datum": {"year":2026,"month":2,"date":16,"utc":true}},
            "y": {"datum": -20.3, "type": "quantitative", "axis": null, "scale": {"domain": [-20.3, 107.5], "nice": false, "zero": false}}
          }
        },
        {
          "data": {"values": [{}]},
          "mark": {"type": "rule", "color": "#000000", "strokeWidth": 3},
          "encoding": {
            "x": {"datum": {"year":2015,"month":9,"date":30,"utc":true}, "type": "temporal", "axis": null},
            "y": {"datum": -20.3, "type": "quantitative", "axis": null, "scale": {"domain": [-20.3, 107.5], "nice": false, "zero": false}},
            "y2": {"datum": 107.5}
          }
        },
        {
          "data": {"values": [{}]},
          "mark": {"type": "rule", "color": "#000000", "strokeWidth": 3},
          "encoding": {
            "x": {"datum": {"year":2026,"month":2,"date":16,"utc":true}, "type": "temporal", "axis": null},
            "y": {"datum": -20.3, "type": "quantitative", "axis": null, "scale": {"domain": [-20.3, 107.5], "nice": false, "zero": false}},
            "y2": {"datum": 107.5}
          }
        },
        {
          "data": {"values": [{}]},
          "mark": {"type": "point", "shape": "M-0.78,0.55 C-1.02,0.55 -1.08,0.12 -0.82,0.02 C-0.8,-0.3 -0.45,-0.42 -0.22,-0.25 C-0.08,-0.58 0.52,-0.6 0.62,-0.1 C0.98,-0.08 1.05,0.55 0.72,0.55 Z", "size": 1600, "filled": true, "color": "#2196f3", "opacity": 1},
          "encoding": {
            "x": {"datum": {"year":2015,"month":11,"date":9,"utc":true}, "type": "temporal", "axis": null},
            "y": {"datum": -32.5, "type": "quantitative", "axis": null, "scale": {"domain": [-20.3, 107.5], "nice": false, "zero": false}}
          }
        },
        {
          "data": {"values": [{}]},
          "mark": {"type": "point", "shape": "M-0.62,0.3 L-0.28,-0.1 L0.08,0.3 L0.5,-0.08", "size": 1600, "filled": false, "stroke": "#ffffff", "strokeWidth": 2.5, "opacity": 1},
          "encoding": {
            "x": {"datum": {"year":2015,"month":11,"date":9,"utc":true}, "type": "temporal", "axis": null},
            "y": {"datum": -32.5, "type": "quantitative", "axis": null, "scale": {"domain": [-20.3, 107.5], "nice": false, "zero": false}}
          }
        },
        {
          "data": {"values": [{"t": "TradingView"}]},
          "mark": {"type": "text", "align": "left", "baseline": "middle", "fontSize": 19, "font": "Roboto", "color": "#131722"},
          "encoding": {
            "x": {"datum": {"year":2015,"month":12,"date":29,"utc":true}, "type": "temporal", "axis": null},
            "y": {"datum": -32.5, "type": "quantitative", "axis": null, "scale": {"domain": [-20.3, 107.5], "nice": false, "zero": false}},
            "text": {"field": "t"}
          }
        }
      ]
    }
  ]
}
